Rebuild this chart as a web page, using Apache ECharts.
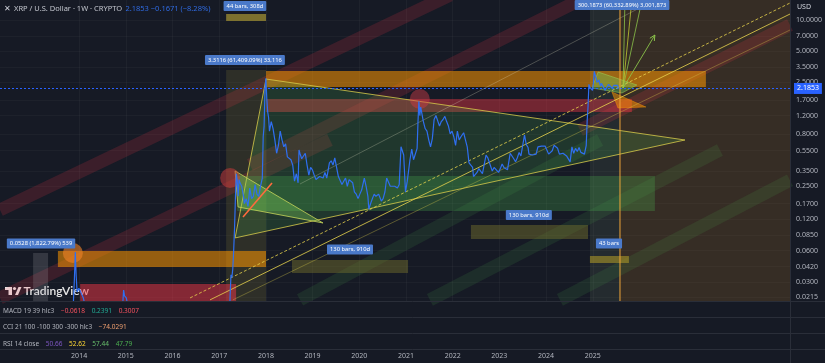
<!DOCTYPE html>
<html><head><meta charset="utf-8">
<script src="https://cdn.jsdelivr.net/npm/echarts@6/dist/echarts.min.js"></script>
<style>html,body{margin:0;padding:0;background:#161a25;}#c{width:825px;height:363px;}</style>
</head><body><div id="c"></div>
<script>
// ---------------- DATA ----------------
const xrpWeekly = [
['2013-08-05',0.0056],['2013-09-02',0.0052],['2013-10-07',0.0056],['2013-11-04',0.0095],['2013-11-18',0.020],['2013-11-25',0.032],
['2013-12-02',0.058],['2013-12-09',0.034],['2013-12-16',0.024],['2013-12-30',0.026],['2014-01-13',0.024],['2014-02-03',0.021],
['2014-02-24',0.016],['2014-03-17',0.013],['2014-04-14',0.008],['2014-05-19',0.0055],['2014-06-30',0.0058],['2014-08-11',0.0052],
['2014-09-22',0.0054],['2014-10-27',0.0075],['2014-11-24',0.011],['2014-12-08',0.018],['2014-12-15',0.025],['2014-12-22',0.022],
['2015-01-05',0.021],['2015-01-19',0.017],['2015-02-16',0.014],['2015-03-23',0.011],['2015-05-04',0.008],['2015-07-06',0.0085],
['2015-09-07',0.0075],['2015-11-02',0.004],['2016-01-04',0.0058],['2016-03-07',0.0085],['2016-05-02',0.0065],['2016-07-04',0.0064],
['2016-09-05',0.0068],['2016-11-07',0.0078],['2017-01-02',0.0065],['2017-02-27',0.0075],['2017-03-20',0.0105],['2017-03-27',0.022],
['2017-04-03',0.035],['2017-04-10',0.033],['2017-04-17',0.04],['2017-04-24',0.06],['2017-05-01',0.10],['2017-05-08',0.20],
['2017-05-15',0.33],['2017-05-22',0.28],['2017-05-29',0.20],['2017-06-05',0.29],['2017-06-12',0.27],['2017-06-26',0.25],
['2017-07-10',0.20],['2017-07-17',0.17],['2017-07-31',0.19],['2017-08-14',0.16],['2017-08-28',0.24],['2017-09-11',0.19],
['2017-09-25',0.20],['2017-10-09',0.26],['2017-10-23',0.21],['2017-11-06',0.20],['2017-11-20',0.25],['2017-12-04',0.30],
['2017-12-11',0.75],['2017-12-18',0.95],['2017-12-25',2.10],['2018-01-01',2.75],['2018-01-08',1.75],['2018-01-15',1.30],
['2018-01-22',1.15],['2018-01-29',0.85],['2018-02-12',1.05],['2018-02-26',0.90],['2018-03-12',0.70],['2018-03-26',0.52],
['2018-04-09',0.62],['2018-04-23',0.85],['2018-05-07',0.70],['2018-05-21',0.60],['2018-06-04',0.64],['2018-06-18',0.48],
['2018-07-02',0.46],['2018-07-16',0.45],['2018-07-30',0.40],['2018-08-13',0.28],['2018-08-27',0.33],['2018-09-10',0.27],
['2018-09-17',0.56],['2018-09-24',0.52],['2018-10-08',0.46],['2018-10-22',0.46],['2018-11-05',0.52],['2018-11-19',0.40],
['2018-12-03',0.32],['2018-12-17',0.38],['2018-12-31',0.36],['2019-01-14',0.32],['2019-01-28',0.29],['2019-02-11',0.30],
['2019-02-25',0.31],['2019-03-11',0.31],['2019-03-25',0.30],['2019-04-08',0.34],['2019-04-22',0.30],['2019-05-06',0.31],
['2019-05-13',0.42],['2019-05-27',0.44],['2019-06-10',0.40],['2019-06-24',0.47],['2019-07-08',0.38],['2019-07-22',0.31],
['2019-08-05',0.30],['2019-08-19',0.26],['2019-09-02',0.26],['2019-09-16',0.30],['2019-09-30',0.25],['2019-10-14',0.29],
['2019-10-28',0.30],['2019-11-11',0.27],['2019-11-25',0.22],['2019-12-09',0.21],['2019-12-23',0.19],['2020-01-06',0.21],
['2020-01-20',0.23],['2020-02-10',0.30],['2020-02-24',0.25],['2020-03-09',0.20],['2020-03-16',0.15],['2020-03-30',0.17],
['2020-04-13',0.19],['2020-04-27',0.21],['2020-05-11',0.20],['2020-06-01',0.21],['2020-06-22',0.18],['2020-07-06',0.19],
['2020-07-20',0.22],['2020-08-03',0.30],['2020-08-17',0.29],['2020-08-31',0.25],['2020-09-14',0.24],['2020-10-05',0.25],
['2020-10-26',0.24],['2020-11-09',0.26],['2020-11-23',0.60],['2020-11-30',0.62],['2020-12-14',0.50],['2020-12-28',0.22],
['2021-01-11',0.28],['2021-01-25',0.27],['2021-02-01',0.45],['2021-02-15',0.57],['2021-03-01',0.45],['2021-03-15',0.46],
['2021-03-29',0.58],['2021-04-05',1.05],['2021-04-12',1.65],['2021-04-19',1.20],['2021-04-26',1.45],['2021-05-10',1.50],
['2021-05-17',1.05],['2021-05-31',0.90],['2021-06-14',0.85],['2021-06-28',0.70],['2021-07-12',0.60],['2021-07-26',0.72],
['2021-08-09',1.10],['2021-08-23',1.20],['2021-09-06',1.25],['2021-09-20',0.95],['2021-10-04',1.05],['2021-10-18',1.10],
['2021-11-01',1.18],['2021-11-15',1.05],['2021-11-29',0.95],['2021-12-13',0.80],['2021-12-27',0.85],['2022-01-10',0.75],
['2022-01-24',0.62],['2022-02-07',0.85],['2022-02-21',0.70],['2022-03-07',0.75],['2022-03-28',0.82],['2022-04-11',0.70],
['2022-04-25',0.60],['2022-05-09',0.42],['2022-05-23',0.40],['2022-06-06',0.38],['2022-06-13',0.31],['2022-06-27',0.32],
['2022-07-11',0.34],['2022-07-25',0.37],['2022-08-08',0.37],['2022-08-22',0.33],['2022-09-05',0.33],['2022-09-19',0.50],
['2022-10-03',0.47],['2022-10-17',0.46],['2022-11-07',0.35],['2022-11-21',0.38],['2022-12-05',0.39],['2022-12-26',0.34],
['2023-01-09',0.37],['2023-01-23',0.41],['2023-02-06',0.38],['2023-02-20',0.38],['2023-03-06',0.36],['2023-03-20',0.46],
['2023-03-27',0.52],['2023-04-10',0.51],['2023-04-24',0.46],['2023-05-08',0.43],['2023-05-22',0.47],['2023-06-05',0.53],
['2023-06-19',0.49],['2023-07-03',0.47],['2023-07-17',0.78],['2023-07-31',0.63],['2023-08-14',0.59],['2023-08-21',0.51],
['2023-09-04',0.49],['2023-09-18',0.50],['2023-10-02',0.52],['2023-10-16',0.51],['2023-10-30',0.60],['2023-11-13',0.62],
['2023-11-27',0.61],['2023-12-11',0.62],['2023-12-25',0.61],['2024-01-08',0.56],['2024-01-22',0.51],['2024-02-05',0.50],
['2024-02-19',0.55],['2024-03-04',0.62],['2024-03-18',0.60],['2024-04-01',0.58],['2024-04-15',0.51],['2024-04-29',0.52],
['2024-05-13',0.52],['2024-05-27',0.52],['2024-06-10',0.49],['2024-06-24',0.47],['2024-07-08',0.43],['2024-07-22',0.60],
['2024-08-05',0.52],['2024-08-19',0.58],['2024-09-02',0.54],['2024-09-16',0.59],['2024-09-30',0.53],['2024-10-14',0.54],
['2024-10-28',0.51],['2024-11-11',0.62],['2024-11-18',1.05],['2024-11-25',1.45],['2024-12-02',2.40],['2024-12-09',2.25],
['2024-12-16',2.35],['2024-12-30',2.10],['2025-01-06',2.45],['2025-01-13',3.20],['2025-01-20',3.10],['2025-01-27',2.75],
['2025-02-03',2.50],['2025-02-17',2.65],['2025-03-03',2.30],['2025-03-10',2.45],['2025-03-24',2.35],['2025-04-07',2.10],
['2025-04-21',2.25],['2025-05-05',2.40],['2025-05-19',2.30],['2025-06-02',2.20],['2025-06-16',2.35],['2025-06-30',2.25],
['2025-07-14',2.3524],['2025-07-21',2.1853]
];
const lastPrice = 2.1853;
const priceTicks = [10,7,5,3.5,2.5,1.7,1.2,0.8,0.55,0.35,0.25,0.17,0.12,0.085,0.06,0.042,0.03,0.0215];
const yearTicks = [2014,2015,2016,2017,2018,2019,2020,2021,2022,2023,2024,2025];
const xRange = ['2012-04-22','2029-03-24'];
const yRange = [0.0196, 15.59];

// background zones [startDate, endDate, highPrice, lowPrice]
const bgZones = [
  ['2025-08-02','2029-03-24',15.59,0.0196],
  ['2024-12-10','2025-08-02',15.59,0.0196],
  ['2017-02-24','2018-01-02',3.30,0.0196]
];
// diagonal bands [[date, price],[date, price]]
const redBands = [
  [['2012-04-22',0.1477],['2021-12-11',17.41]],
  [['2017-08-29',0.401],['2024-12-10',17.41]],
  [['2024-09-23',0.872],['2029-03-24',8.95]],
  [['2012-04-22',0.0210],['2019-05-17',0.698]]
];
const greenBands = [
  [['2018-09-25',0.0201],['2025-02-27',0.698]],
  [['2021-07-07',0.0201],['2027-09-23',0.559]],
  [['2024-04-19',0.0201],['2029-03-24',0.286]]
];
// price zones [startDate, endDate, highPrice, lowPrice]
const zones = [
  ['2017-02-24','2018-01-02',11.42,9.78],
  ['2018-07-24','2021-01-17',0.0487,0.0365],
  ['2022-05-24','2024-11-25',0.1059,0.0777],
  ['2024-12-10','2025-10-11',0.0533,0.0456],
  ['2013-01-06','2013-05-03',0.0569,0.0196],
  ['2013-07-19','2018-01-02',0.0595,0.0417],
  ['2014-01-09','2017-05-13',0.0286,0.0196],
  ['2017-05-21','2026-05-02',0.314,0.1445],
  ['2018-01-02','2025-11-03',1.734,1.299],
  ['2018-01-02','2027-06-05',3.23,2.26]
];
// triangles / polygons
const shapes = [
  [['2018-01-02',2.70],['2026-12-23',0.698],['2017-05-05',0.0794]],
  [['2017-05-05',0.351],['2019-03-24',0.1107],['2017-05-28',0.158]],
  [['2024-12-26',2.21],['2025-02-12',3.155],['2025-12-12',2.365],['2025-08-18',1.98]],
  [['2025-05-31',2.025],['2026-02-21',1.451],['2025-07-17',1.420]]
];
// trend lines, fan, markers
const trendLines = [
  [['2016-05-18',0.0210],['2029-03-24',14.58]],
  [['2016-10-21',0.0201],['2029-03-24',11.42]],
  [['2017-04-18',0.0201],['2029-03-24',8.01]],
  [['2018-09-25',0.263],['2026-05-02',15.59]],
  [['2017-07-06',0.1265],['2018-02-18',0.269]],
  [['2025-08-02',15.59],['2025-08-02',0.0196]],
  [['2025-08-26',2.21],['2025-09-10',15.59]],
  [['2025-08-26',2.21],['2025-11-03',15.59]],
  [['2025-08-26',2.21],['2026-01-21',15.59]],
  [['2025-08-26',2.21],['2026-05-02',7.17]]
];
const circles = [['2017-03-27',0.300],['2021-04-19',1.734],['2013-11-13',0.0569]];
const labelPoints = [
  ['2017-07-21',13.64],['2017-07-21',4.12],['2013-03-09',0.0703],['2019-10-21',0.0615],
  ['2023-08-20',0.1322],['2025-05-08',0.0703],['2025-08-18',13.95]
];
const labelTexts = ['44 bars, 308d','3.3116 (61,409.09%) 33,116','0.0528 (1,822.79%) 539','130 bars, 910d',
  '130 bars, 910d','43 bars','300.1873 (60,332.89%) 3,001,873'];

// ---------------- STYLES ----------------
const bgZoneFill = ['rgba(170,115,40,0.22)','rgba(120,140,110,0.15)','rgba(110,105,50,0.28)'];
const zoneFill = ['rgba(150,135,50,0.8)','rgba(120,115,45,0.45)','rgba(120,115,45,0.45)','rgba(170,150,40,0.6)',
  'rgba(160,160,170,0.22)','rgba(255,152,0,0.55)','rgba(242,54,69,0.5)','rgba(76,175,80,0.28)',
  'rgba(242,54,69,0.42)','rgba(255,152,0,0.55)'];
const shapeStyle = [
  {fill:'rgba(76,175,80,0.2)', stroke:'#d8cc4a', w:0.8},
  {fill:'rgba(130,210,90,0.35)', stroke:'#c8d65a', w:0.8},
  {fill:'rgba(110,200,90,0.4)', stroke:'rgba(160,220,90,0.8)', w:0.6},
  {fill:'rgba(255,152,0,0.5)', stroke:'rgba(255,152,0,0.7)', w:0.6}
];
const lineStyles = [
  {c:'#e8d44d', w:0.8, d:[3,2]},{c:'#e8d44d', w:0.8},{c:'rgba(217,201,74,0.6)', w:0.6},
  {c:'rgba(230,230,200,0.45)', w:0.6},{c:'#ff6a3d', w:1.6},{c:'#f0a63a', w:1},
  {c:'#8bc34a', w:0.8},{c:'#c0ca33', w:0.8},{c:'#8bc34a', w:0.8},{c:'#8bc34a', w:0.9, arrow:true}
];
const circleFill = ['rgba(210,60,60,0.5)','rgba(210,60,70,0.45)','rgba(240,130,40,0.6)'];

const T = s => Date.parse(s + 'T00:00:00Z');
const pt = (api, p) => api.coord([T(p[0]), p[1]]);

function rectRender(list, fills){
  return function(params, api){
    const z = list[params.dataIndex];
    const a = api.coord([T(z[0]), z[2]]), b = api.coord([T(z[1]), z[3]]);
    return {type:'rect', shape:{x:Math.min(a[0],b[0]), y:Math.min(a[1],b[1]), width:Math.abs(b[0]-a[0]), height:Math.abs(b[1]-a[1])},
      style:{fill:fills[params.dataIndex]}};
  };
}
function bandRender(list, color){
  return function(params, api){
    const L = list[params.dataIndex];
    const a = pt(api, L[0]), b = pt(api, L[1]);
    return {type:'line', shape:{x1:a[0],y1:a[1],x2:b[0],y2:b[1]}, style:{stroke:color, lineWidth:13, lineCap:'butt'}};
  };
}
const cs = (name, z, list, render) => ({
  type:'custom', name, z, silent:true, animation:false,
  data: list.map(d => Array.isArray(d[0]) ? [T(d[0][0]), d[0][1]] : [T(d[0]), typeof d[1]==='number'?d[1]:d[2]]),
  renderItem: render
});

const chart = echarts.init(document.getElementById('c'), null, {renderer:'canvas'});
const FONT = '"Noto Sans", sans-serif';
const yearStamps = yearTicks.map(y => Date.UTC(y,0,1));

chart.setOption({
  backgroundColor:'#161a25',
  animation:false,
  grid:{left:0, right:35, top:0, bottom:62},
  xAxis:{
    type:'value', min:T(xRange[0]), max:T(xRange[1]),
    axisLine:{show:false},
    axisTick:{show:false, customValues: yearStamps},
    splitLine:{show:true, lineStyle:{color:'rgba(255,255,255,0.035)', width:1}},
    axisLabel:{customValues: yearStamps, formatter: v => String(new Date(v).getUTCFullYear()),
      color:'#b2b5be', fontSize:7, fontFamily:FONT, margin:51}
  },
  yAxis:{
    type:'log', logBase:10, position:'right', min:yRange[0], max:yRange[1],
    axisLine:{show:true, lineStyle:{color:'#2a2e39'}},
    axisTick:{show:false, customValues: priceTicks},
    splitLine:{show:true, lineStyle:{color:'rgba(255,255,255,0.03)'}},
    axisLabel:{customValues: priceTicks, formatter: v => Number(v).toFixed(4), color:'#b2b5be', fontSize:7, fontFamily:FONT, margin:6}
  },
  series:[
    cs('bgZones', 1, bgZones, rectRender(bgZones, bgZoneFill)),
    cs('redBands', 2, redBands, bandRender(redBands, 'rgba(242,54,69,0.17)')),
    cs('greenBands', 2, greenBands, bandRender(greenBands, 'rgba(76,175,80,0.13)')),
    cs('zones', 3, zones, rectRender(zones, zoneFill)),
    cs('shapes', 4, shapes, function(params, api){
      const s = shapes[params.dataIndex], st = shapeStyle[params.dataIndex];
      return {type:'polygon', shape:{points: s.map(p => pt(api, p))}, style:{fill:st.fill, stroke:st.stroke, lineWidth:st.w}};
    }),
    cs('lines', 5, trendLines, function(params, api){
      const L = trendLines[params.dataIndex], st = lineStyles[params.dataIndex];
      const a = pt(api, L[0]), b = pt(api, L[1]);
      const ch = [{type:'line', shape:{x1:a[0],y1:a[1],x2:b[0],y2:b[1]}, style:{stroke:st.c, lineWidth:st.w, lineDash:st.d||null}}];
      if (st.arrow){
        const ang = Math.atan2(b[1]-a[1], b[0]-a[0]), len = 6;
        const p1 = [b[0]-len*Math.cos(ang-0.45), b[1]-len*Math.sin(ang-0.45)];
        const p2 = [b[0]-len*Math.cos(ang+0.45), b[1]-len*Math.sin(ang+0.45)];
        ch.push({type:'polyline', shape:{points:[p1,b,p2]}, style:{stroke:st.c, lineWidth:1, fill:null}});
      }
      return {type:'group', children:ch};
    }),
    cs('circles', 5, circles, function(params, api){
      const c = pt(api, circles[params.dataIndex]);
      return {type:'circle', shape:{cx:c[0], cy:c[1], r:10}, style:{fill:circleFill[params.dataIndex]}};
    }),
    {
      type:'line', name:'XRP', z:6, showSymbol:false, symbol:'none', animation:false,
      data: xrpWeekly.map(d => [T(d[0]), d[1]]),
      lineStyle:{color:'#2f6ff0', width:1.2},
      markLine:{silent:true, symbol:'none', animation:false,
        data:[{yAxis:lastPrice}],
        lineStyle:{color:'#2962ff', type:[2,2], width:1},
        label:{position:'end', formatter: () => lastPrice.toFixed(4), color:'#fff', backgroundColor:'#2962ff',
          padding:[2,3], fontSize:7, fontFamily:FONT, distance:4}
      }
    },
    cs('labels', 7, labelPoints, function(params, api){
      const p = pt(api, labelPoints[params.dataIndex]);
      return {type:'text', x:p[0], y:p[1], style:{text:labelTexts[params.dataIndex], fill:'#fff',
        fontSize:5.8, fontFamily:FONT, align:'center', verticalAlign:'middle',
        backgroundColor:'#4a79c9', padding:[2,3], borderRadius:1}};
    })
  ],
  graphic:[
    {type:'line', shape:{x1:0,y1:301.5,x2:825,y2:301.5}, style:{stroke:'#2a2e39', lineWidth:1}, z:10},
    {type:'line', shape:{x1:0,y1:317.5,x2:825,y2:317.5}, style:{stroke:'#2a2e39', lineWidth:1}, z:10},
    {type:'line', shape:{x1:0,y1:333.5,x2:825,y2:333.5}, style:{stroke:'#2a2e39', lineWidth:1}, z:10},
    {type:'line', shape:{x1:0,y1:349.5,x2:825,y2:349.5}, style:{stroke:'#2a2e39', lineWidth:1}, z:10},
    {type:'line', shape:{x1:790.5,y1:0,x2:790.5,y2:363}, style:{stroke:'#2a2e39', lineWidth:1}, z:10},
    {type:'text', x:4, y:3, z:10, style:{text:'{i|✕} {a|XRP / U.S. Dollar · 1W · CRYPTO} {b|2.1853 −0.1671 (−8.28%)}',
      rich:{i:{fill:'#d1d4dc', fontSize:8, fontFamily:'DejaVu Sans', fontWeight:'bold'},
            a:{fill:'#c3c6ce', fontSize:7.5, fontFamily:FONT},
            b:{fill:'#2f6ae0', fontSize:7.5, fontFamily:FONT}}}},
    {type:'text', x:797, y:3, z:10, style:{text:'USD', fill:'#d1d4dc', fontSize:7, fontFamily:FONT}},
    {type:'text', x:3, y:305, z:10, style:{text:'{a|MACD 19 39 hlc3}  {r|−0.0618}  {g|0.2391}  {r|0.3007}',
      rich:{a:{fill:'#b2b5be', fontSize:6.5, fontFamily:FONT}, r:{fill:'#f7525f', fontSize:6.5, fontFamily:FONT}, g:{fill:'#22ab94', fontSize:6.5, fontFamily:FONT}}}},
    {type:'text', x:3, y:321, z:10, style:{text:'{a|CCI 21 100 -100 300 -300 hlc3}  {o|−74.0291}',
      rich:{a:{fill:'#b2b5be', fontSize:6.5, fontFamily:FONT}, o:{fill:'#f0a070', fontSize:6.5, fontFamily:FONT}}}},
    {type:'text', x:3, y:338, z:10, style:{text:'{a|RSI 14 close}  {p|50.66}  {y|52.62}  {g|57.44}  {h|47.79}',
      rich:{a:{fill:'#b2b5be', fontSize:6.5, fontFamily:FONT}, p:{fill:'#7e57c2', fontSize:6.5, fontFamily:FONT},
            y:{fill:'#fdd835', fontSize:6.5, fontFamily:FONT}, g:{fill:'#66bb6a', fontSize:6.5, fontFamily:FONT}, h:{fill:'#4caf50', fontSize:6.5, fontFamily:FONT}}}},
    {type:'group', x:0, y:0, z:10, children:[
      {type:'rect', shape:{x:5,y:287,width:7,height:3}, style:{fill:'#e8e8e8'}},
      {type:'rect', shape:{x:8.5,y:287,width:3.5,height:8}, style:{fill:'#e8e8e8'}},
      {type:'circle', shape:{cx:14.5,cy:288.5,r:1.6}, style:{fill:'#e8e8e8'}},
      {type:'polygon', shape:{points:[[15,295],[18.5,287],[21.5,287],[18,295]]}, style:{fill:'#e8e8e8'}},
      {type:'text', x:23.5, y:285, style:{text:'TradingView', fill:'#e8e8e8', fontSize:12, fontWeight:600, fontFamily:'Lato'}}
    ]}
  ]
});
</script></body></html>
